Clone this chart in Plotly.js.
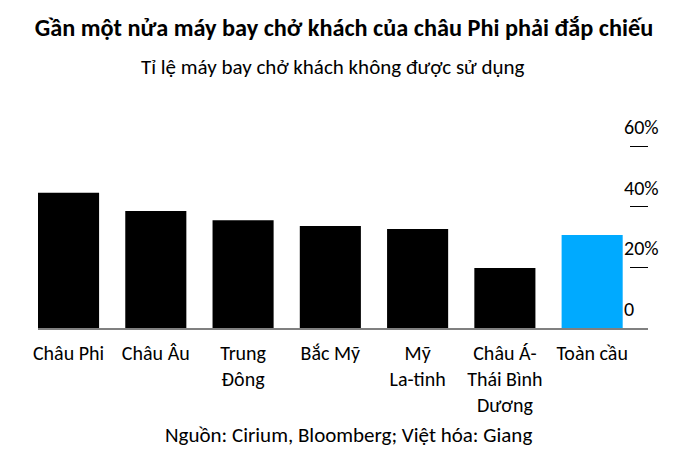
<!DOCTYPE html>
<html>
<head>
<meta charset="utf-8">
<script src="https://cdn.plot.ly/plotly-3.0.1.min.js"></script>
<style>
  html, body { margin: 0; padding: 0; background: #fff; }
  #chart { width: 688px; height: 466px; }
</style>
</head>
<body>
<div id="chart"></div>
<script>
// du lieu: ti le may bay cho khach khong duoc su dung (%)
const regions = ['Châu Phi', 'Châu Âu', 'Trung<br>Đông', 'Bắc Mỹ', 'Mỹ<br>La-tinh', 'Châu Á-<br>Thái Bình<br>Dương', 'Toàn cầu'];
const idleShare = [44.6, 38.6, 35.6, 33.7, 32.7, 19.8, 30.7];
const barColors = ['#000000', '#000000', '#000000', '#000000', '#000000', '#000000', '#00aaff'];
const yTickVals = [0, 20, 40, 60];
const yTickText = ['0', '20%', '40%', '60%'];

const FONT = 'Carlito, Lato, "Noto Sans", sans-serif';

let trace = {
  x: regions.map((r, i) => i),
  y: idleShare,
  type: 'bar',
  marker: { color: barColors, line: { width: 0 } },
  width: 0.7,
  hoverinfo: 'skip'
};

let layout = {
  width: 688,
  height: 466,
  margin: { l: 38, r: 40, t: 140, b: 138 },
  paper_bgcolor: '#fff',
  plot_bgcolor: '#fff',
  font: { family: FONT, color: '#000', size: 20 },
  showlegend: false,
  title: {
    text: '<b>Gần một nửa máy bay chở khách của châu Phi phải đắp chiếu</b>',
    font: { family: FONT, size: 24.3, color: '#000' },
    x: 0.5, xanchor: 'center',
    y: 0.94, yanchor: 'middle'
  },
  xaxis: {
    range: [-0.35, 6.64],
    tickvals: regions.map((r, i) => i),
    ticktext: regions,
    tickfont: { family: FONT, size: 20, color: '#000' },
    ticklabelstandoff: 6,
    showline: true,
    linecolor: '#808080',
    linewidth: 2,
    ticks: '',
    showgrid: false,
    zeroline: false,
    fixedrange: true
  },
  yaxis: {
    side: 'right',
    range: [0, 62.05],
    tickvals: yTickVals,
    ticktext: yTickText,
    ticks: 'inside',
    ticklen: 18,
    tickwidth: 1,
    tickcolor: '#000',
    ticklabelshift: -19,
    ticklabelstandoff: -25,
    tickfont: { family: FONT, size: 20, color: '#000' },
    showgrid: false,
    zeroline: false,
    showline: false,
    fixedrange: true
  },
  annotations: [
    {
      text: 'Tỉ lệ máy bay chở khách không được sử dụng',
      xref: 'paper', yref: 'paper',
      x: (333 - 38) / 610, xanchor: 'center',
      y: (466 - 138 - 67) / 188, yanchor: 'middle',
      showarrow: false,
      font: { family: FONT, size: 21, color: '#000' }
    },
    {
      text: 'Nguồn: Cirium, Bloomberg; Việt hóa: Giang',
      xref: 'paper', yref: 'paper',
      x: (348 - 38) / 610, xanchor: 'center',
      y: (466 - 138 - 435) / 188, yanchor: 'middle',
      showarrow: false,
      font: { family: FONT, size: 21, color: '#000' }
    }
  ]
};

Plotly.newPlot('chart', [trace], layout, { displayModeBar: false, staticPlot: true });
</script>
</body>
</html>
